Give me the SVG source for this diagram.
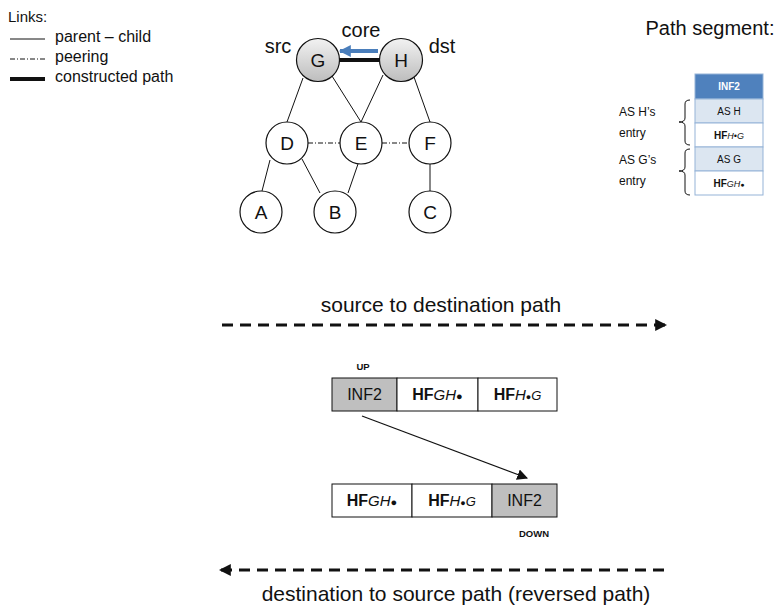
<svg xmlns="http://www.w3.org/2000/svg" width="775" height="608" viewBox="0 0 775 608">
<defs>
<style>
text{font-family:"Liberation Sans",Arial,sans-serif;fill:#111}
.node{fill:#fff;stroke:#111;stroke-width:1.2}
.core{fill:url(#g1);stroke:#111;stroke-width:1.2}
.nl{font-size:19px;text-anchor:middle}
.e{stroke:#111;stroke-width:1;fill:none}
.peer{stroke:#111;stroke-width:1;stroke-dasharray:5 2 1 2;fill:none}
.box{fill:#fff;stroke:#111;stroke-width:1}
.gbox{fill:#bfbfbf;stroke:#111;stroke-width:1}
.bt{font-size:16px;text-anchor:middle}
.tb{stroke:#95b3d7;stroke-width:1}
.tt{font-size:10px;text-anchor:middle}
.lg{font-size:16px}
.big{font-size:20px;text-anchor:middle}
.cap{font-size:21px;text-anchor:middle}
.sm{font-size:9.5px;font-weight:bold;text-anchor:middle}
</style>
<linearGradient id="g1" x1="0" y1="0" x2="0" y2="1">
<stop offset="0" stop-color="#f2f2f2"/>
<stop offset="1" stop-color="#bdbdbd"/>
</linearGradient>
<marker id="ah" viewBox="0 0 10 10" refX="9" refY="5" markerWidth="4" markerHeight="4" orient="auto-start-reverse" markerUnits="strokeWidth">
<path d="M0,0 L10,5 L0,10 z" fill="#111"/>
</marker>
<marker id="ab" viewBox="0 0 10 10" refX="9" refY="5" markerWidth="3" markerHeight="3" orient="auto" markerUnits="strokeWidth">
<path d="M0,0 L10,5 L0,10 z" fill="#4a7ebb"/>
</marker>
<marker id="as" viewBox="0 0 10 10" refX="9" refY="5" markerWidth="9" markerHeight="9" orient="auto" markerUnits="strokeWidth">
<path d="M0,0 L10,5 L0,10 z" fill="#111"/>
</marker>
</defs>

<g id="legend">
<text x="8" y="22" style="font-size:15px">Links:</text>
<line x1="10" y1="39" x2="45" y2="39" class="e"/>
<text x="55" y="42" class="lg">parent – child</text>
<line x1="10" y1="59" x2="45" y2="59" class="peer"/>
<text x="55" y="62" class="lg">peering</text>
<line x1="10" y1="79" x2="45" y2="79" stroke="#111" stroke-width="4"/>
<text x="55" y="82" class="lg">constructed path</text>
</g>

<g id="connectors">
<line x1="303" y1="78" x2="287" y2="122" class="e"/>
<line x1="332" y1="76" x2="361" y2="122" class="e"/>
<line x1="383" y1="75" x2="361" y2="122" class="e"/>
<line x1="414" y1="77" x2="430" y2="122" class="e"/>
<line x1="308" y1="143" x2="340" y2="143" class="peer"/>
<line x1="382" y1="143" x2="409" y2="143" class="peer"/>
<line x1="270" y1="160" x2="262" y2="191" class="e"/>
<line x1="302" y1="159" x2="320" y2="193" class="e"/>
<line x1="358" y1="164" x2="348" y2="193" class="e"/>
<line x1="430" y1="164" x2="430" y2="191" class="e"/>
<line x1="339" y1="60" x2="380" y2="60" stroke="#111" stroke-width="4"/>
<line x1="378" y1="51" x2="340" y2="51" stroke="#4a7ebb" stroke-width="4" marker-end="url(#ab)"/>
<line x1="362" y1="416" x2="527" y2="478" stroke="#111" stroke-width="1.2" marker-end="url(#as)"/>
<line x1="222" y1="325" x2="666" y2="325" stroke="#111" stroke-width="3" stroke-dasharray="11 7" marker-end="url(#ah)"/>
<line x1="664" y1="570" x2="220" y2="570" stroke="#111" stroke-width="3" stroke-dasharray="11 7" marker-end="url(#ah)"/>
</g>

<g id="node-G"><circle cx="318" cy="60" r="21.5" class="core"/><text x="318" y="67" class="nl">G</text></g>
<g id="node-H"><circle cx="401" cy="60" r="21.5" class="core"/><text x="401" y="67" class="nl">H</text></g>
<g id="node-D"><circle cx="287" cy="143" r="21" class="node"/><text x="287" y="150" class="nl">D</text></g>
<g id="node-E"><circle cx="361" cy="143" r="21" class="node"/><text x="361" y="150" class="nl">E</text></g>
<g id="node-F"><circle cx="430" cy="143" r="21" class="node"/><text x="430" y="150" class="nl">F</text></g>
<g id="node-A"><circle cx="261" cy="212" r="21" class="node"/><text x="261" y="219" class="nl">A</text></g>
<g id="node-B"><circle cx="335" cy="212" r="21" class="node"/><text x="335" y="219" class="nl">B</text></g>
<g id="node-C"><circle cx="430" cy="212" r="21" class="node"/><text x="430" y="219" class="nl">C</text></g>

<g id="graph-labels">
<text x="278" y="53" class="big">src</text>
<text x="442" y="53" class="big">dst</text>
<text x="361" y="37" class="big">core</text>
</g>

<g id="path-segment">
<text x="710" y="35" class="big">Path segment:</text>
<rect x="695" y="74" width="68" height="25" fill="#4f81bd" class="tb"/>
<rect x="695" y="99" width="68" height="24" fill="#dce6f1" class="tb"/>
<rect x="695" y="123" width="68" height="24" fill="#fff" class="tb"/>
<rect x="695" y="147" width="68" height="24" fill="#dce6f1" class="tb"/>
<rect x="695" y="171" width="68" height="24" fill="#fff" class="tb"/>
<text x="729" y="90" class="tt" style="fill:#fff;font-weight:bold">INF2</text>
<text x="729" y="115" class="tt">AS H</text>
<text x="729" y="139" class="tt"><tspan font-weight="bold">HF</tspan><tspan font-style="italic" font-size="9">H•G</tspan></text>
<text x="729" y="163" class="tt">AS G</text>
<text x="729" y="187" class="tt"><tspan font-weight="bold">HF</tspan><tspan font-style="italic" font-size="9">GH</tspan><tspan font-size="7">●</tspan></text>
<path d="M690,100 Q685,100 685,104 L685,118 Q685,122 679,122 Q685,122 685,126 L685,141 Q685,145 690,145" class="e"/>
<path d="M690,149 Q685,149 685,153 L685,167 Q685,171 679,171 Q685,171 685,175 L685,191 Q685,195 690,195" class="e"/>
<text x="619" y="116" style="font-size:12px">AS H’s</text>
<text x="619" y="137" style="font-size:12px">entry</text>
<text x="619" y="164" style="font-size:12px">AS G’s</text>
<text x="619" y="185" style="font-size:12px">entry</text>
</g>

<g id="seq-up">
<text x="363" y="370" class="sm">UP</text>
<rect x="332" y="378" width="65" height="33" class="gbox"/>
<rect x="397" y="378" width="81" height="33" class="box"/>
<rect x="478" y="378" width="79" height="33" class="box"/>
<text x="364.5" y="400" class="bt">INF2</text>
<text x="437.5" y="400" class="bt"><tspan font-weight="bold">HF</tspan><tspan font-style="italic" font-size="15">GH</tspan><tspan font-size="11">●</tspan></text>
<text x="517.5" y="400" class="bt"><tspan font-weight="bold">HF</tspan><tspan font-style="italic" font-size="15">H</tspan><tspan font-size="9">●</tspan><tspan font-style="italic" font-size="13">G</tspan></text>
</g>

<g id="seq-down">
<rect x="332" y="484" width="80" height="33" class="box"/>
<rect x="412" y="484" width="80" height="33" class="box"/>
<rect x="492" y="484" width="65" height="33" class="gbox"/>
<text x="372" y="506" class="bt"><tspan font-weight="bold">HF</tspan><tspan font-style="italic" font-size="15">GH</tspan><tspan font-size="11">●</tspan></text>
<text x="452" y="506" class="bt"><tspan font-weight="bold">HF</tspan><tspan font-style="italic" font-size="15">H</tspan><tspan font-size="9">●</tspan><tspan font-style="italic" font-size="13">G</tspan></text>
<text x="524.5" y="506" class="bt">INF2</text>
<text x="534" y="537" class="sm">DOWN</text>
</g>

<g id="captions">
<text x="441" y="312" class="cap">source to destination path</text>
<text x="456" y="601" class="cap">destination to source path (reversed path)</text>
</g>
</svg>
